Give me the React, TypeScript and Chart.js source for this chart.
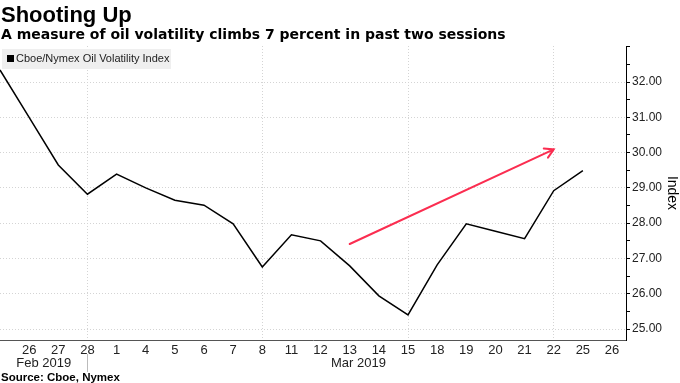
import React, { useEffect, useRef } from "react";
import { Chart, registerables } from "chart.js";
Chart.register(...registerables);

// Trading days, Feb 25 2019 .. Mar 26 2019
const dayLabels = ["25", "26", "27", "28", "1", "4", "5", "6", "7", "8", "11", "12", "13", "14", "15", "18", "19", "20", "21", "22", "25", "26"];
// Cboe/Nymex Oil Volatility Index (Feb 25 .. Mar 25)
const values = [32.34, 31.0, 29.65, 28.82, 29.39, 29.0, 28.65, 28.51, 27.98, 26.76, 27.67, 27.5, 26.79, 25.94, 25.4, 26.82, 27.98, 27.77, 27.56, 28.92, 29.49];
const yTickValues = [25, 25.5, 26, 26.5, 27, 27.5, 28, 28.5, 29, 29.5, 30, 30.5, 31, 31.5, 32, 32.5, 33];
const yLabelMax = 32;
const xTickIndices = [1, 2, 3, 4, 5, 6, 7, 8, 9, 10, 11, 12, 13, 14, 15, 16, 17, 18, 19, 20, 21];
const gridDays = [3, 9, 14, 19];
const months = [
  { text: "Feb 2019", at: 1.5 },
  { text: "Mar 2019", at: 12.3 },
];
const monthSeparators = [3];
const arrowFrom = { x: 12, y: 27.41 };
const arrowTo = { x: 19, y: 30.09 };

const TITLE = "Shooting Up";
const SUBTITLE = "A measure of oil volatility climbs 7 percent in past two sessions";
const SERIES = "Cboe/Nymex Oil Volatility Index";
const SOURCE = "Source: Cboe, Nymex";

const FONT = "'Liberation Sans', Arial, sans-serif";
const WIDE = "'DejaVu Sans', Verdana, sans-serif";

const decorPlugin = {
  id: "decor",
  afterDatasetsDraw(chart: any) {
    const { ctx, scales } = chart;
    const xs = scales.x, ys = scales.y;
    // arrow
    const x1 = xs.getPixelForValue(arrowFrom.x), y1 = ys.getPixelForValue(arrowFrom.y);
    const x2 = xs.getPixelForValue(arrowTo.x), y2 = ys.getPixelForValue(arrowTo.y);
    ctx.save();
    ctx.strokeStyle = "#fb2d50";
    ctx.lineWidth = 2;
    ctx.lineCap = "round";
    ctx.beginPath();
    ctx.moveTo(x1, y1);
    ctx.lineTo(x2, y2);
    const ang = Math.atan2(y2 - y1, x2 - x1);
    const hl = 10;
    ctx.moveTo(x2 - hl * Math.cos(ang - Math.PI / 6), y2 - hl * Math.sin(ang - Math.PI / 6));
    ctx.lineTo(x2, y2);
    ctx.lineTo(x2 - hl * Math.cos(ang + Math.PI / 6), y2 - hl * Math.sin(ang + Math.PI / 6));
    ctx.stroke();
    ctx.restore();

    // legend box
    const ca = chart.chartArea;
    ctx.save();
    ctx.fillStyle = "#efefef";
    ctx.fillRect(ca.left + 2, ca.top + 3, 169, 20);
    ctx.fillStyle = "#000";
    ctx.fillRect(ca.left + 7, ca.top + 9, 7, 7);
    ctx.font = `11px ${FONT}`;
    ctx.textBaseline = "middle";
    ctx.fillStyle = "#222";
    ctx.fillText(SERIES, ca.left + 16, ca.top + 13);
    ctx.restore();
  },
  afterDraw(chart: any) {
    const { ctx, scales } = chart;
    const xs = scales.x;
    ctx.save();
    ctx.fillStyle = "#000";
    ctx.textBaseline = "alphabetic";
    ctx.textAlign = "left";
    ctx.font = `bold 22px ${FONT}`;
    ctx.fillText(TITLE, 1, 22);
    ctx.font = `bold 14px ${WIDE}`;
    ctx.fillText(SUBTITLE, 1, 39);
    ctx.font = `bold 11.5px ${FONT}`;
    ctx.fillText(SOURCE, 1, 381);
    // months
    ctx.font = `13px ${FONT}`;
    ctx.fillStyle = "#222";
    ctx.textAlign = "center";
    ctx.textBaseline = "middle";
    months.forEach((m) => ctx.fillText(m.text, xs.getPixelForValue(m.at), 363));
    // separators
    ctx.strokeStyle = "#bbb";
    ctx.lineWidth = 1;
    monthSeparators.forEach((s) => {
      const x = Math.round(xs.getPixelForValue(s)) + 0.5;
      ctx.beginPath();
      ctx.moveTo(x, 354);
      ctx.lineTo(x, 372);
      ctx.stroke();
    });
    ctx.restore();
  },
};

export default function App() {
  const ref = useRef<HTMLCanvasElement | null>(null);
  useEffect(() => {
    document.body.style.margin = "0";
    const chart = new Chart(ref.current as HTMLCanvasElement, {
      type: "line",
      data: {
        datasets: [
          {
            label: SERIES,
            data: values.map((v, i) => ({ x: i, y: v })),
            borderColor: "#000",
            borderWidth: 1.5,
            pointRadius: 0,
            tension: 0,
            fill: false,
          },
        ],
      },
      options: {
        animation: false,
        responsive: true,
        maintainAspectRatio: false,
        layout: { padding: { top: 46, left: 0, right: 0, bottom: 0 } },
        plugins: {
          legend: { display: false },
          tooltip: { enabled: false },
          title: { display: false },
        },
        scales: {
          x: {
            type: "linear",
            min: 0,
            max: 21.48,
            afterBuildTicks: (scale: any) => {
              scale.ticks = xTickIndices.map((v) => ({ value: v }));
            },
            afterFit: (scale: any) => {
              scale.height = 43;
            },
            ticks: {
              autoSkip: false,
              maxRotation: 0,
              padding: 3,
              color: "#222",
              font: { family: FONT, size: 13 },
              callback: (v: any) => dayLabels[v] ?? "",
            },
            grid: {
              drawTicks: false,
              color: (c: any) => (c.tick && gridDays.includes(c.tick.value) ? "#d4d4d4" : "rgba(0,0,0,0)"),
            },
            border: { display: true, color: "#555", width: 1, dash: [1, 2] },
          },
          y: {
            type: "linear",
            position: "right",
            min: 24.69,
            max: 33.02,
            afterBuildTicks: (scale: any) => {
              scale.ticks = yTickValues.map((v) => ({ value: v }));
            },
            afterFit: (scale: any) => {
              scale.width = 54;
            },
            ticks: {
              padding: 2,
              color: "#222",
              font: { family: FONT, size: 12 },
              callback: (v: any) => (Number.isInteger(v) && v <= yLabelMax ? Number(v).toFixed(2) : ""),
            },
            grid: {
              drawTicks: true,
              tickLength: 4,
              tickColor: "#000",
              color: (c: any) =>
                c.tick && Number.isInteger(c.tick.value) && c.tick.value <= yLabelMax ? "#d4d4d4" : "rgba(0,0,0,0)",
            },
            border: { display: true, color: "#000", width: 1, dash: [1, 2] },
            title: {
              display: true,
              text: "Index",
              color: "#000",
              font: { family: FONT, size: 14 },
              padding: 0,
            },
          },
        },
      },
      plugins: [decorPlugin],
    } as any);
    return () => chart.destroy();
  }, []);
  return (
    <div style={{ position: "absolute", left: 0, top: 0, width: 680, height: 383 }}>
      <canvas ref={ref} />
    </div>
  );
}
